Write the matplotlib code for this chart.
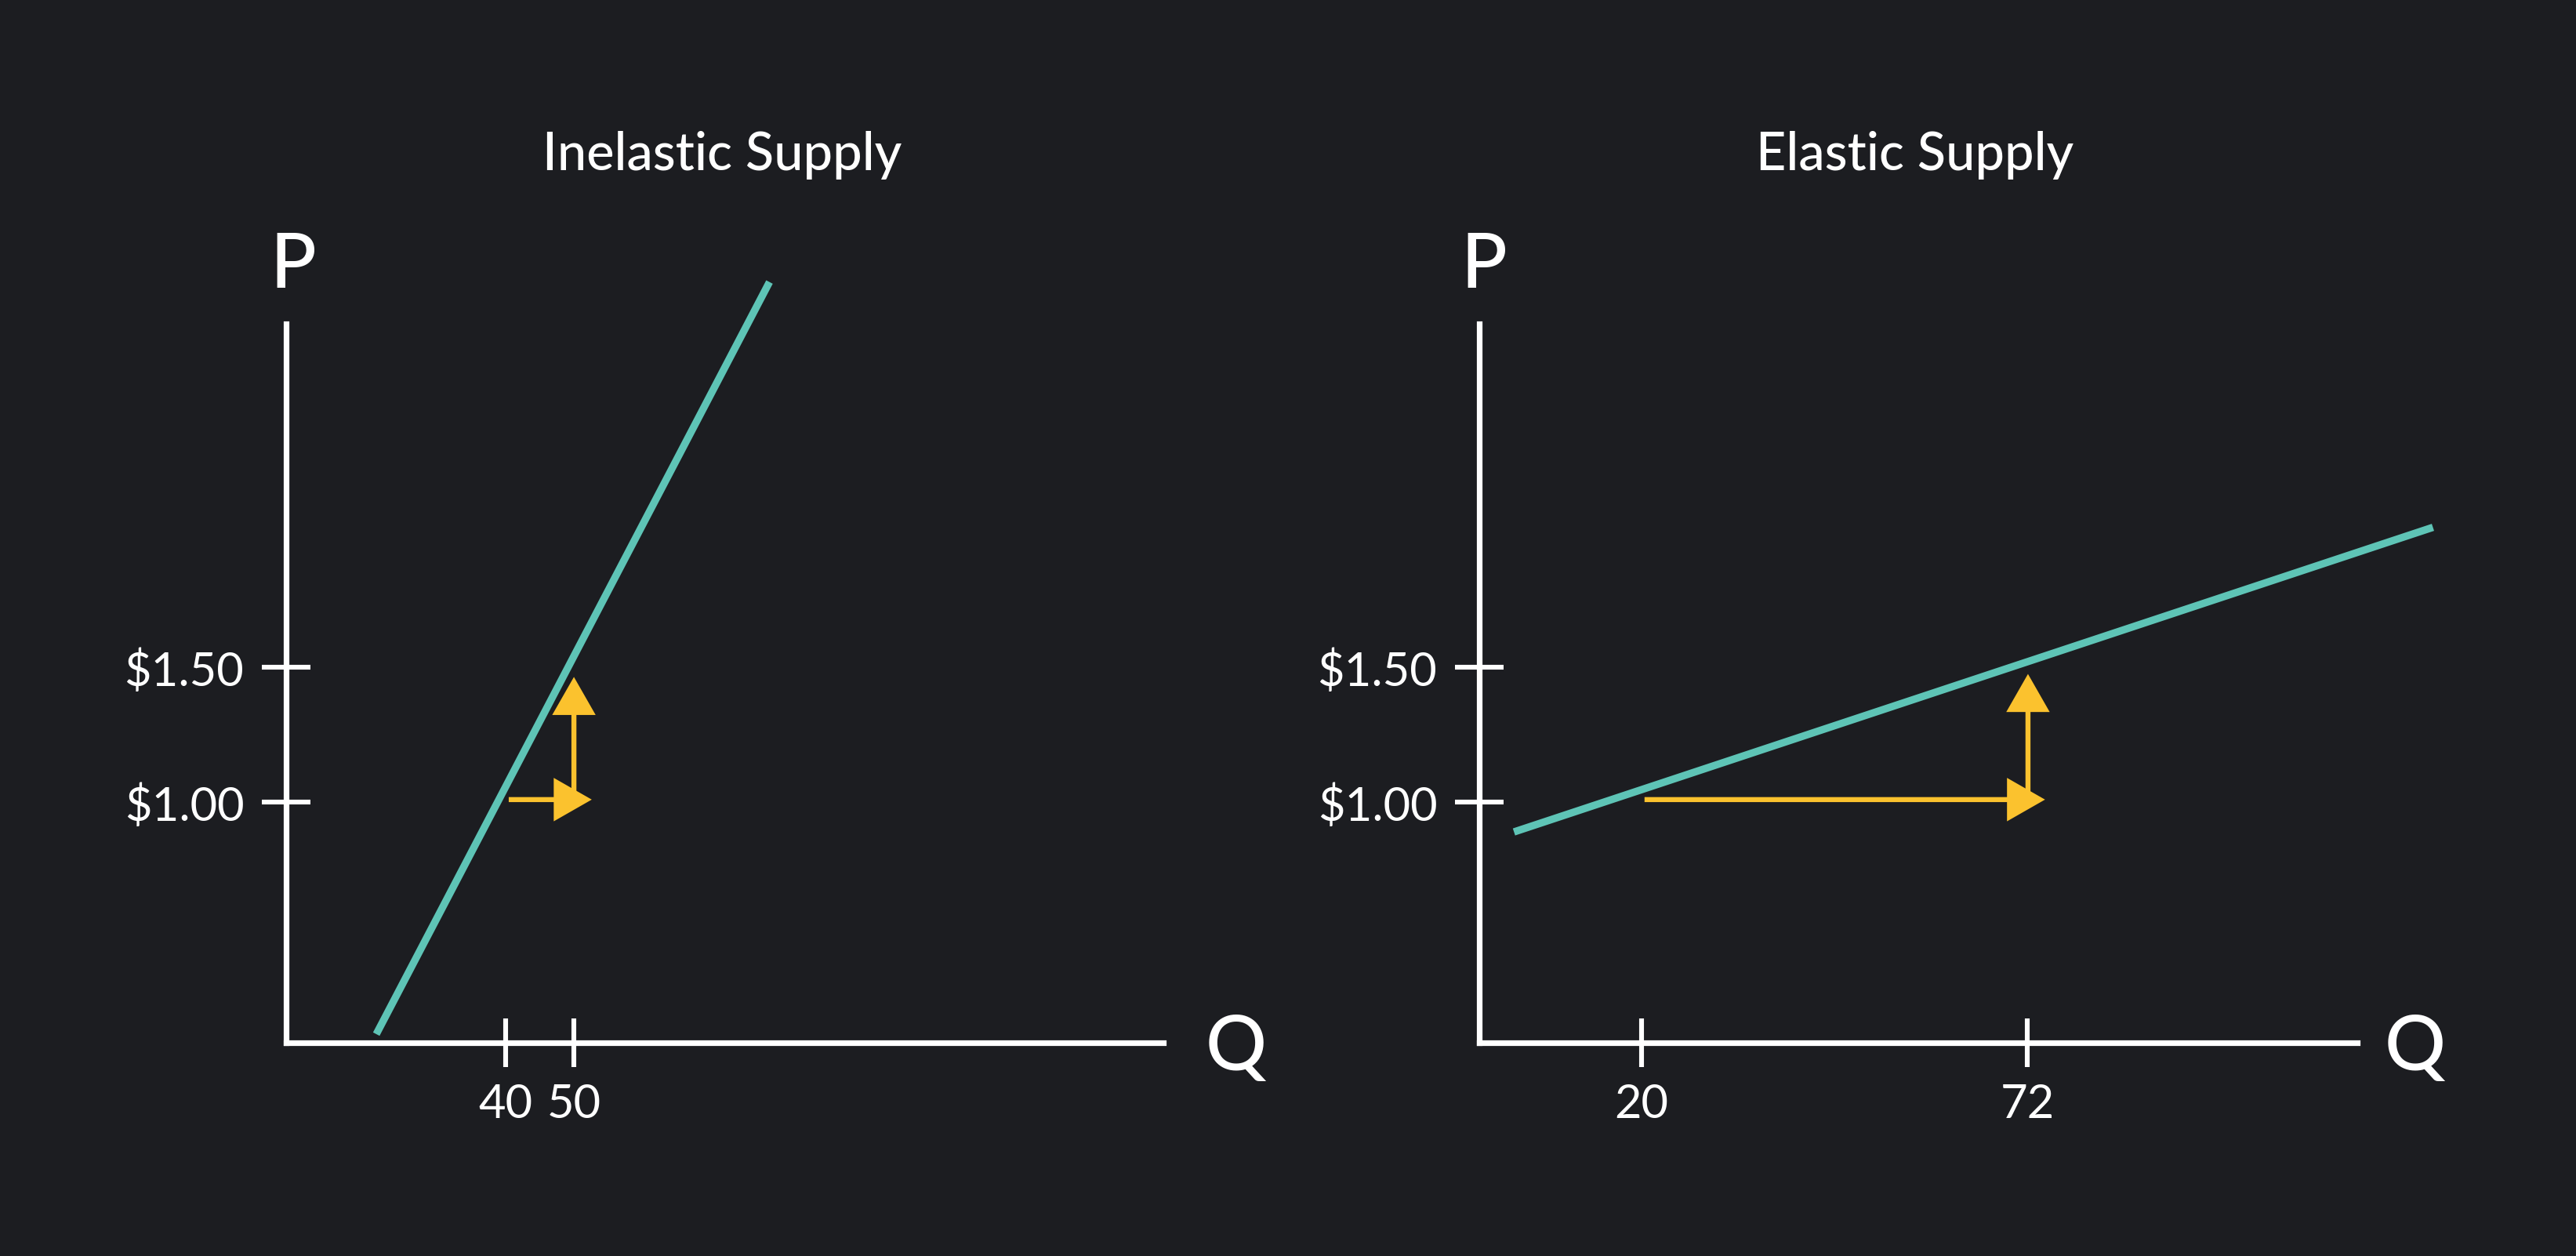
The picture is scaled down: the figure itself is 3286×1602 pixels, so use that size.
import matplotlib
matplotlib.use("Agg")
import matplotlib.pyplot as plt
from matplotlib.patches import FancyArrowPatch

# ---- data ----
titles = ["Inelastic Supply", "Elastic Supply"]
price_ticks = [1.00, 1.50]
price_labels = ["$1.00", "$1.50"]
left_q_ticks = [40, 50]
right_q_ticks = [20, 72]
inelastic_q = [21.2, 78.5]
inelastic_p = [0.14, 2.93]
elastic_q = [2.8, 126.7]
elastic_p = [0.89, 2.02]
# arrows: (q_start, p_start, q_end, p_end)
left_h_arrow = [40.5, 1.01, 52.6, 1.01]
left_v_arrow = [50.0, 1.01, 50.0, 1.465]
right_h_arrow = [20.4, 1.01, 74.4, 1.01]
right_v_arrow = [72.1, 1.01, 72.1, 1.476]

BG = "#1c1d21"
TEAL = "#5ec4b6"
YELLOW = "#fbc22e"
WHITE = "#ffffff"
FONT = ["Lato", "DejaVu Sans"]
plt.rcParams["font.family"] = FONT

W, H = 3286, 1602
DPI = 200
fig = plt.figure(figsize=(W / DPI, H / DPI), dpi=DPI, facecolor=BG)


def fx(px):
    return px / W


def fy(py):
    return 1 - py / H


def make_axes(x0, x1, xlim, ylim, qticks, title, title_x, p_x, q_x,
              sq, sp, harrow, varrow):
    ax = fig.add_axes([fx(x0), fy(1330), fx(x1) - fx(x0), fy(413) - fy(1330)])
    ax.set_facecolor(BG)
    ax.patch.set_alpha(0)
    ax.set_xlim(*xlim)
    ax.set_ylim(*ylim)
    for s in ["top", "right"]:
        ax.spines[s].set_visible(False)
    for s in ["left", "bottom"]:
        ax.spines[s].set_color(WHITE)
        ax.spines[s].set_linewidth(2.6)
        ax.spines[s].set_capstyle("projecting")
    ax.set_yticks(price_ticks)
    ax.set_yticklabels(price_labels)
    ax.set_xticks(qticks)
    ax.set_xticklabels([str(q) for q in qticks])
    ax.tick_params(axis="both", direction="inout", length=22.3, width=2.2,
                   colors=WHITE, labelsize=21.5)
    ax.tick_params(axis="y", pad=8.2)
    ax.tick_params(axis="x", pad=7.5)

    ax.plot(sq, sp, color=TEAL, lw=3.4, solid_capstyle="butt", clip_on=False)

    for a in (harrow, varrow):
        arr = FancyArrowPatch((a[0], a[1]), (a[2], a[3]),
                              arrowstyle="-|>,head_length=0.7,head_width=0.4",
                              mutation_scale=20, color=YELLOW, lw=2.3,
                              shrinkA=0, shrinkB=0, clip_on=False,
                              joinstyle="miter", capstyle="butt")
        ax.add_patch(arr)

    fig.text(fx(title_x), fy(217), title, color=WHITE, fontsize=24,
             fontweight="medium", ha="center", va="baseline")
    fig.text(fx(p_x), fy(367), "P", color=WHITE, fontsize=35,
             fontweight="medium", ha="center", va="baseline")
    fig.text(fx(q_x), fy(1365), "Q", color=WHITE, fontsize=35,
             fontweight="medium", ha="center", va="baseline")
    return ax


make_axes(365, 1484, (8.06, 135.9), (0.108, 2.775), left_q_ticks,
          titles[0], 921, 374, 1577, inelastic_q, inelastic_p,
          left_h_arrow, left_v_arrow)
make_axes(1887, 3007, (-1.88, 116.5), (0.108, 2.775), right_q_ticks,
          titles[1], 2443, 1893, 3081, elastic_q, elastic_p,
          right_h_arrow, right_v_arrow)

fig.savefig("out.png", dpi=DPI, facecolor=BG)
